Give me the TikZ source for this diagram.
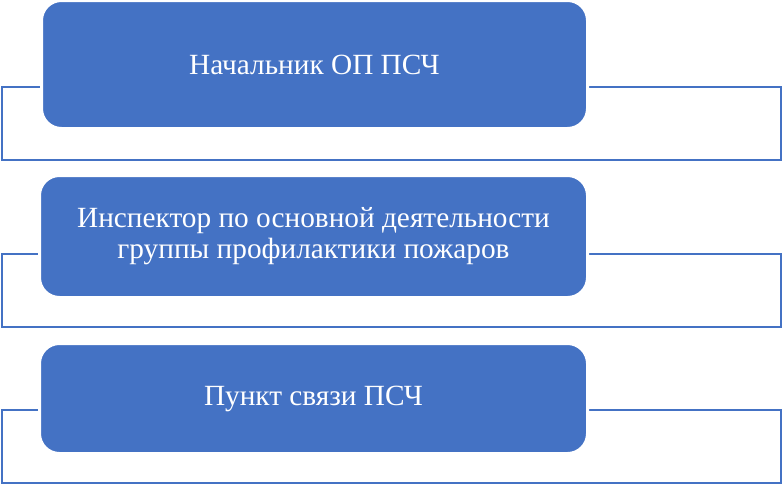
\documentclass[tikz,border=0pt]{standalone}
\usepackage{fontspec}
\setmainfont{Liberation Serif}
\usepackage{xcolor}
\usetikzlibrary{positioning}
\definecolor{boxblue}{HTML}{4472C4}

\begin{document}
\begin{tikzpicture}[x=1pt,y=-1pt,
    unit/.style={fill=boxblue,draw=white,line width=3pt,rounded corners=20pt,
        text=white,align=center,inner sep=0pt,font=\fontsize{29.3}{31}\selectfont},
    frame/.style={draw=boxblue,line width=2.5pt,minimum width=779pt,minimum height=73pt,inner sep=0pt}]
    \useasboundingbox (0,0) rectangle (783,485);

    % Frames behind the units
    \node[frame] (chiefframe) at (391.5,123.5) {};
    \node[frame] (inspframe)  at (391.5,290.5) {};
    \node[frame] (commframe)  at (391.5,446.5) {};

    % Units
    \node[unit,minimum width=546pt,minimum height=128pt] (chief) at (314.5,64.5) {Начальник ОП ПСЧ};
    \node[unit,minimum width=548pt,minimum height=122pt] (insp) at (313.5,236.5)
        {Инспектор по основной деятельности\\группы профилактики пожаров};
    \node[unit,minimum width=548pt,minimum height=110pt] (comm) at (313.5,398.5) {Пункт связи ПСЧ};
\end{tikzpicture}
\end{document}
